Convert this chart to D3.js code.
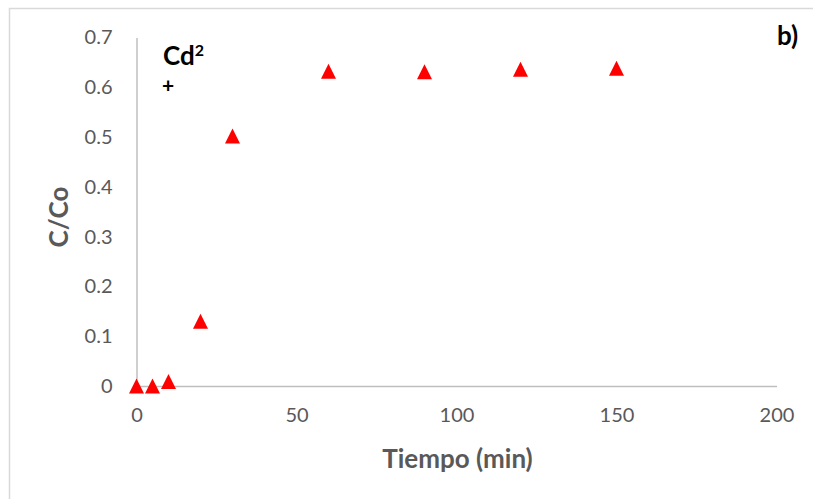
<!DOCTYPE html>
<meta charset="utf-8">
<head>
    <style>
        body {margin: 0; background: #fff;}
        text {font-family: Lato, "Open Sans", sans-serif;}
        .tick text {fill: #595959; font-size: 20px;}
        .domain {stroke: #bfbfbf; stroke-width: 1.5px;}
        .title {fill: #595959; font-size: 26px; font-weight: bold;}
        .note {fill: #000; font-weight: bold;}
    </style>
    <script src="https://d3js.org/d3.v7.min.js"></script>
</head>
<body>
<script>

    // C/Co versus tiempo, Cd2+
    var tiempo = [0, 5, 10, 20, 30, 60, 90, 120, 150],
        cco = [0, 0, 0.009, 0.13, 0.502, 0.632, 0.631, 0.636, 0.638],
        xTicks = [0, 50, 100, 150, 200],
        yTicks = [0, 0.1, 0.2, 0.3, 0.4, 0.5, 0.6, 0.7];

    var W = 813, H = 499;

    var margin = {top: 37.5, right: 36.5, bottom: 113, left: 136.5},
        width = W - margin.left - margin.right,
        height = H - margin.top - margin.bottom;

    var svg = d3.select("body").append("svg")
        .attr("width", W)
        .attr("height", H)

    // chart frame
    svg.append("rect")
        .attr("x", 9.5).attr("y", 8.5)
        .attr("width", W).attr("height", H)
        .attr("fill", "none")
        .attr("stroke", "#d9d9d9")
        .attr("stroke-width", 1.5)

    var g = svg.append("g")
        .attr("transform", "translate(" + margin.left + "," + margin.top + ")")

    var x = d3.scaleLinear()
        .domain([0, 200])
        .range([0, width]);

    var y = d3.scaleLinear()
        .domain([0, 0.7])
        .range([height, 0]);

    g.append("g")
        .attr("transform", "translate(0," + height + ")")
        .call(d3.axisBottom(x).tickValues(xTicks).tickSize(0).tickPadding(22).tickFormat(d3.format("d")))

    g.append("g")
        .call(d3.axisLeft(y).tickValues(yTicks).tickSize(0).tickPadding(24).tickFormat(function(d) {return d === 0 ? "0" : d3.format(".1f")(d)}))

    g.selectAll(".tick text").attr("font-size", null).attr("font-family", null)

    // triangle markers
    var tri = "M0,-7.5L7.5,7.5L-7.5,7.5Z";
    g.selectAll("path.pt")
        .data(tiempo)
      .enter().append("path")
        .attr("class", "pt")
        .attr("d", tri)
        .attr("fill", "#ff0000")
        .attr("transform", function(d, i) {return "translate(" + x(d) + "," + y(cco[i]) + ")"})

    // axis titles
    svg.append("text")
        .attr("class", "title")
        .attr("x", 457.5)
        .attr("y", 468)
        .attr("text-anchor", "middle")
        .text("Tiempo (min)")

    svg.append("text")
        .attr("class", "title")
        .attr("transform", "translate(68,217) rotate(-90)")
        .attr("text-anchor", "middle")
        .text("C/Co")

    // labels in plot
    var cd = svg.append("text")
        .attr("class", "note")
        .attr("x", 163)
        .attr("y", 65)
        .attr("font-size", 26)
    cd.append("tspan").text("Cd")
    cd.append("tspan").attr("dy", -9).attr("font-size", 16).text("2")

    svg.append("text")
        .attr("class", "note")
        .attr("x", 162)
        .attr("y", 93)
        .attr("font-size", 21)
        .text("+")

    svg.append("text")
        .attr("class", "note")
        .attr("x", 777)
        .attr("y", 45)
        .attr("font-size", 26)
        .text("b)")

</script>
</body>
